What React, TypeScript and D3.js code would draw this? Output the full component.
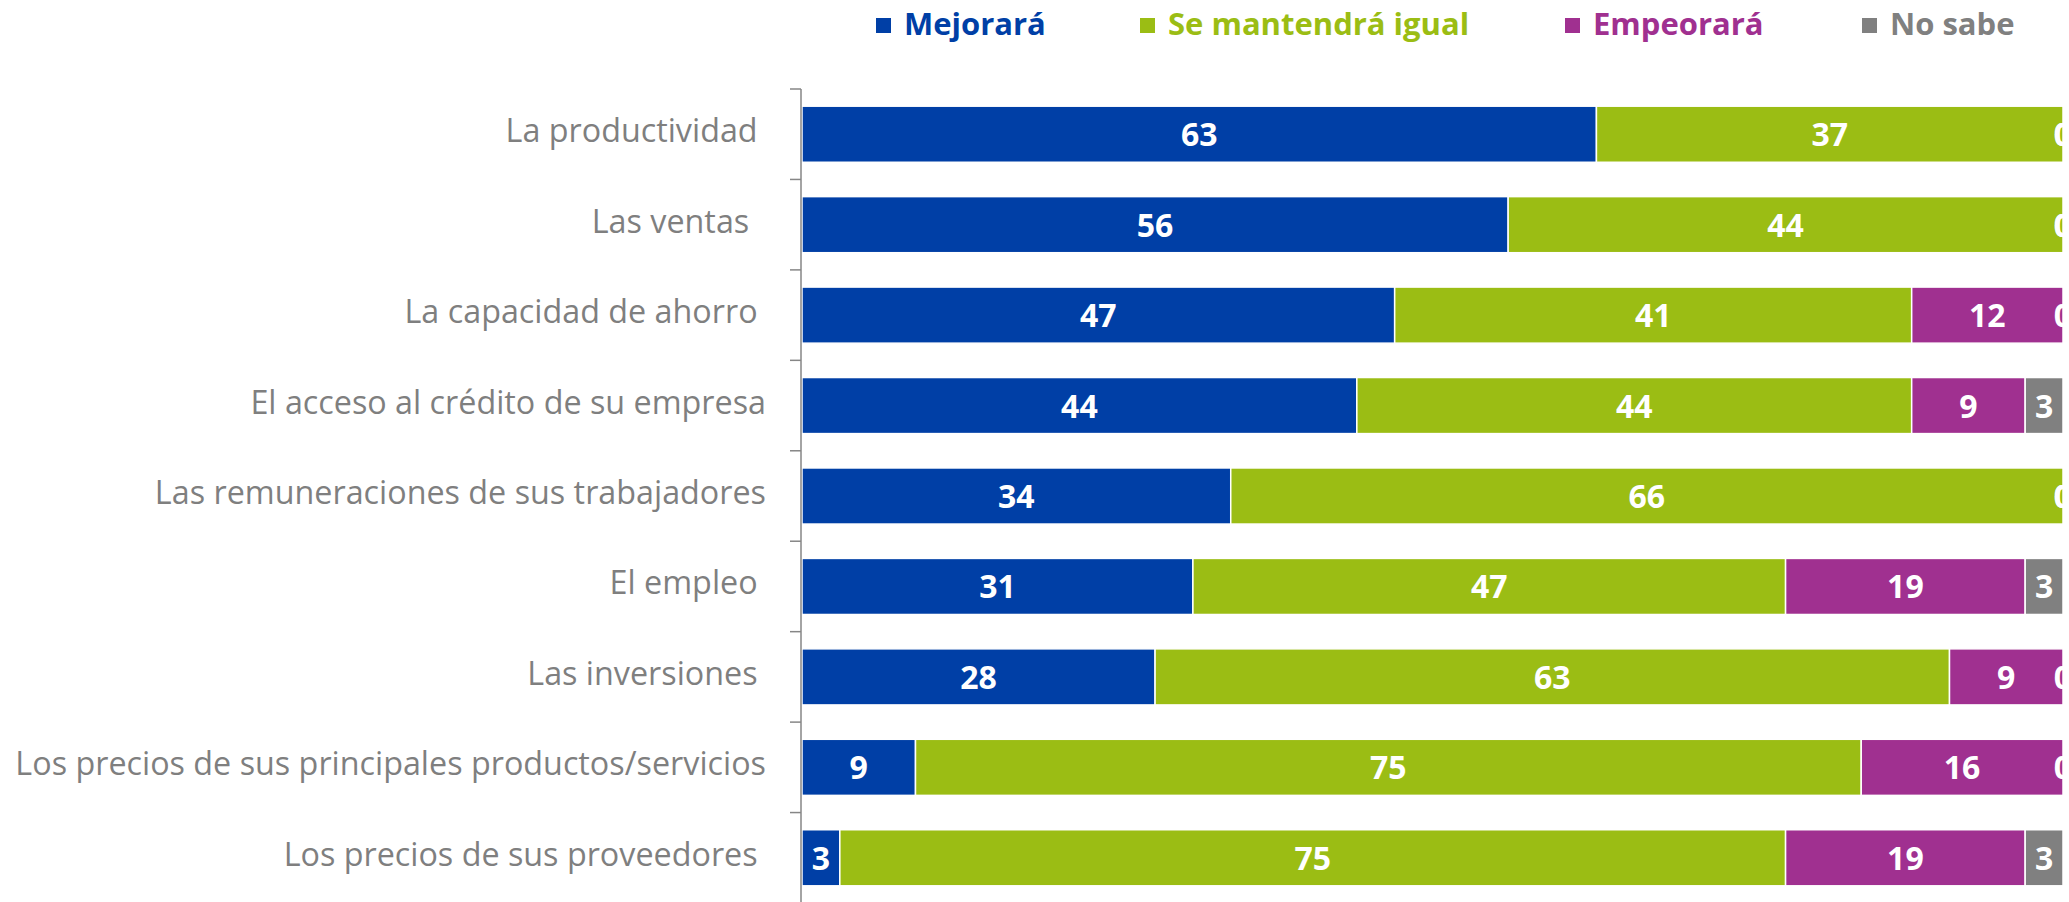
import React, { Component } from 'react';
import * as d3 from 'd3';

// categories (trailing spaces are in the original labels)
const categories = [
    'La productividad ',
    'Las ventas  ',
    'La capacidad de ahorro ',
    'El acceso al crédito de su empresa',
    'Las remuneraciones de sus trabajadores',
    'El empleo ',
    'Las inversiones ',
    'Los precios de sus principales productos/servicios',
    'Los precios de sus proveedores ',
];
const seriesNames = ['Mejorará', 'Se mantendrá igual', 'Empeorará', 'No sabe'];
const mejorara = [63, 56, 47, 44, 34, 31, 28, 9, 3];
const seMantendra = [37, 44, 41, 44, 66, 47, 63, 75, 75];
const empeorara = [0, 0, 12, 9, 0, 19, 9, 16, 19];
const noSabe = [0, 0, 0, 3, 0, 3, 0, 0, 3];
const seriesColors = ['#003FA6', '#9BBD14', '#A03090', '#808080'];

const FONT = "'Open Sans', 'Noto Sans', sans-serif";

class App extends Component {
    svgRef = React.createRef<SVGSVGElement>();
    width = 2069;
    height = 902;

    componentDidMount() {
        document.body.style.margin = '0';
        this.drawChart();
    }

    drawChart() {
        const svg = d3.select(this.svgRef.current);
        svg.selectAll('*').remove();

        const margin = { top: 89, right: 6, bottom: 0, left: 802 };
        const plotRight = this.width - margin.right;

        const rows = categories.map((c, i) => ({
            cat: c,
            [seriesNames[0]]: mejorara[i],
            [seriesNames[1]]: seMantendra[i],
            [seriesNames[2]]: empeorara[i],
            [seriesNames[3]]: noSabe[i],
        }));
        const stacked = d3.stack<any>().keys(seriesNames)(rows);

        const x = d3.scaleLinear().domain([0, 100]).range([margin.left, plotRight]);
        const y = d3.scaleBand()
            .domain(categories)
            .range([margin.top, this.height + 1])
            .paddingInner(0.38)
            .paddingOuter(0.19);

        // the source image is cropped at the right: zero labels end up half cut
        svg.append('defs').append('clipPath')
            .attr('id', 'plot-clip')
            .append('rect')
            .attr('x', margin.left)
            .attr('y', 0)
            .attr('width', plotRight - margin.left)
            .attr('height', this.height);

        const plot = svg.append('g').attr('clip-path', 'url(#plot-clip)');

        // bars
        stacked.forEach((layer, si) => {
            plot.append('g')
                .selectAll('rect')
                .data(layer)
                .enter().append('rect')
                .attr('x', d => x(d[0]))
                .attr('y', d => y(d.data.cat)!)
                .attr('width', d => x(d[1]) - x(d[0]))
                .attr('height', y.bandwidth())
                .attr('fill', seriesColors[si])
                .attr('stroke', '#fff')
                .attr('stroke-width', 1.5);
        });

        // value labels
        stacked.forEach((layer) => {
            plot.append('g')
                .selectAll('text')
                .data(layer)
                .enter().append('text')
                .attr('x', d => (x(d[0]) + x(d[1])) / 2)
                .attr('y', d => y(d.data.cat)! + y.bandwidth() / 2 + 12)
                .attr('text-anchor', 'middle')
                .attr('fill', '#fff')
                .style('font-family', FONT)
                .style('font-size', '32px')
                .style('font-weight', 700)
                .text(d => d[1] - d[0]);
        });

        // axis line + ticks between categories
        const axis = svg.append('g');
        const [y0, y1] = y.range();
        axis.append('line')
            .attr('x1', margin.left - 1).attr('x2', margin.left - 1)
            .attr('y1', y0).attr('y2', y1)
            .attr('stroke', '#868686').attr('stroke-width', 1.5);
        axis.selectAll('.tick')
            .data(d3.range(categories.length + 1))
            .enter().append('line')
            .attr('class', 'tick')
            .attr('x1', margin.left - 12).attr('x2', margin.left - 1)
            .attr('y1', i => y0 + i * y.step())
            .attr('y2', i => y0 + i * y.step())
            .attr('stroke', '#868686').attr('stroke-width', 1.5);

        axis.selectAll('.cat-label')
            .data(categories)
            .enter().append('text')
            .attr('class', 'cat-label')
            .attr('x', 766)
            .attr('y', d => y(d)! + y.bandwidth() / 2 + 8)
            .attr('text-anchor', 'end')
            .attr('fill', '#7F7F7F')
            .style('white-space', 'pre')
            .style('font-family', FONT)
            .style('font-size', '32.3px')
            .text(d => d);

        // legend
        const legendX = [876, 1140, 1565, 1862];
        const legend = svg.append('g')
            .selectAll('g')
            .data(seriesNames)
            .enter().append('g')
            .attr('transform', (d, i) => `translate(${legendX[i]},0)`);
        legend.append('rect')
            .attr('x', 0).attr('y', 18)
            .attr('width', 15).attr('height', 15)
            .attr('fill', (d, i) => seriesColors[i]);
        legend.append('text')
            .attr('x', 28).attr('y', 35)
            .attr('fill', (d, i) => seriesColors[i])
            .style('font-family', FONT)
            .style('font-size', '31px')
            .style('font-weight', 700)
            .text(d => d);
    }

    render() {
        return (
            <svg ref={this.svgRef} width={this.width} height={this.height} style={{ display: 'block', background: '#fff' }}></svg>
        );
    }
}

export default App;
